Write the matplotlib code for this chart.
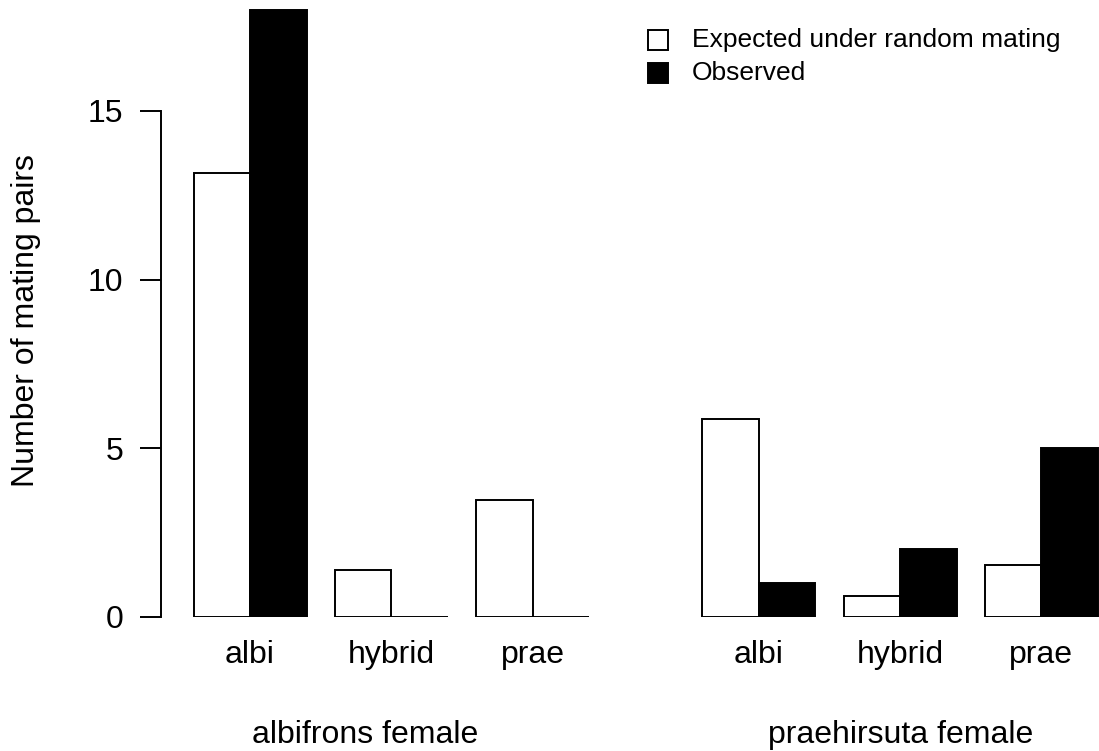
import matplotlib
matplotlib.use("Agg")
import matplotlib.pyplot as plt
from matplotlib.patches import Rectangle

plt.rcParams['font.family'] = ['Liberation Sans', 'DejaVu Sans']

# Data
categories = ['albi', 'hybrid', 'prae']
groups = ['albifrons female', 'praehirsuta female']
expected = [[13.15, 1.39, 3.47], [5.86, 0.61, 1.54]]
observed = [[18, 0, 0], [1, 2, 5]]

fig = plt.figure(figsize=(10.99, 7.51), dpi=100)
W, H = 1099, 751
ax = fig.add_axes([161 / W, (H - 616.7) / H, (W - 161) / W, 616.7 / H])

lw = 1.4
fs = 23
centers = []
for g in range(len(groups)):
    for c in range(len(categories)):
        x0 = g * 9 + c * 2.5
        ax.bar(x0, expected[g][c], width=1, align='edge', color='white',
               edgecolor='black', linewidth=lw)
        ax.bar(x0 + 1, observed[g][c], width=1, align='edge', color='black',
               edgecolor='black', linewidth=lw)
        centers.append(x0 + 1)

ax.set_xlim(-0.575, 16.018)
ax.set_ylim(0, 18.29)

for s in ['top', 'right', 'bottom']:
    ax.spines[s].set_visible(False)
ax.spines['left'].set_linewidth(lw)
ax.spines['left'].set_bounds(0, 15)
ax.set_yticks([0, 5, 10, 15])
ax.tick_params(axis='y', length=15, width=lw, pad=12, labelsize=fs)
ax.set_xticks(centers)
ax.set_xticklabels(categories * len(groups))
ax.tick_params(axis='x', length=0, pad=17, labelsize=fs)

fig.text(26 / W, (H - 321) / H, 'Number of mating pairs', rotation=90,
         ha='center', va='center', fontsize=fs)

# group labels
for name, xl in zip(groups, [252, 768]):
    fig.text(xl / W, (H - 743) / H, name, ha='left', va='baseline', fontsize=fs)

# legend
for yc, fc, lab in [(40, 'white', 'Expected under random mating'), (73, 'black', 'Observed')]:
    fig.patches.append(Rectangle((648 / W, (H - yc - 10) / H), 20 / W, 20 / H,
                                 transform=fig.transFigure, facecolor=fc,
                                 edgecolor='black', linewidth=lw))
    fig.text(692 / W, (H - yc) / H, lab, ha='left', va='center', fontsize=19)

fig.savefig('out.png', dpi=100)
